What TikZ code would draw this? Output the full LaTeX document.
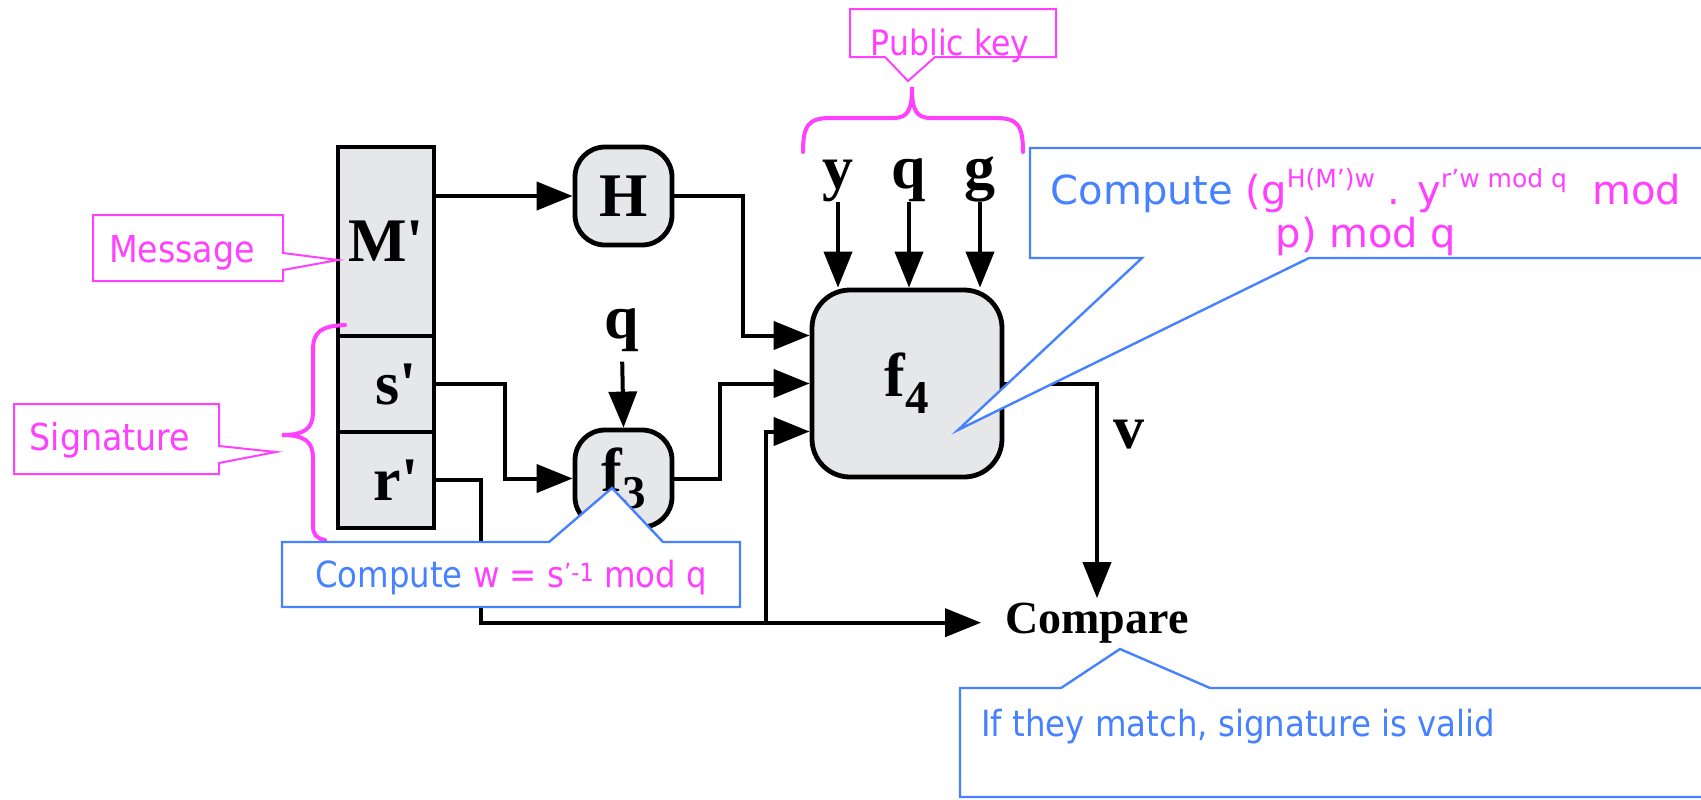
\documentclass[tikz,border=0pt]{standalone}
\usepackage{fontspec}
\usetikzlibrary{arrows.meta,calc}
\newfontfamily\tms{Liberation Serif}
\newfontfamily\tah[FakeStretch=0.9]{DejaVu Sans}
\newfontfamily\tahw{DejaVu Sans}
\definecolor{cmag}{RGB}{255,64,255}
\definecolor{cblu}{RGB}{70,130,255}
\definecolor{cgray}{RGB}{230,231,232}
\newcommand\tb[1]{{\tms\bfseries\fontsize{31}{31}\selectfont #1}}
\newcommand\fsub[2]{\tb{#1\raisebox{-8.5pt}{\fontsize{23.5}{23.5}\selectfont #2}}}
\newcommand\sups[3]{\raisebox{#1}{\fontsize{#2}{#2}\selectfont #3}}
\begin{document}
\begin{tikzpicture}[x=0.5pt,y=-0.5pt,
  wire/.style={line width=2pt,draw=black},
  arr/.style={wire,-{Triangle[length=18pt,width=14pt]}},
  cell/.style={draw,line width=2.4pt,fill=cgray,rectangle,minimum width=48pt,inner sep=0pt},
  rbox/.style={draw,line width=2.4pt,fill=cgray,rectangle,inner sep=0pt},
  lab/.style={inner sep=0pt,anchor=base},
  mcall/.style={draw=cmag,line width=1pt,fill=white},
  bcall/.style={draw=cblu,line width=1.2pt,fill=white},
  brace/.style={draw=cmag,line width=2pt,line cap=round},
  ctext/.style={inner sep=0pt,anchor=base}]
\useasboundingbox (0,0) rectangle (1701,799);

% message column
\node[cell,minimum height=94.5pt] (Mp) at (386,241.5) {\tb{M'}};
\node[cell,minimum height=48pt] (sp) at (386,384) {\hspace*{10pt}\tb{s'}};
\node[cell,minimum height=48pt] (rp) at (386,480) {\hspace*{10pt}\tb{r'}};

% function boxes
\node[rbox,minimum width=48.5pt,minimum height=49pt,rounded corners=15pt] (H) at (623.5,196) {\tb{H}};
\node[rbox,minimum width=48.5pt,minimum height=48.5pt,rounded corners=15pt] (f3) at (623.5,478.5) {\fsub{f}{3}};
\node[rbox,minimum width=95pt,minimum height=93.5pt,rounded corners=19pt] (f4) at (907,383.5) {\fsub{f}{4}};

% labels
\node[lab] (q3) at (622,338) {\tb{q}};
\node[lab] (ly) at (838,188) {\tb{y}};
\node[lab] (lq) at (909,188) {\tb{q}};
\node[lab] (lg) at (980,188) {\tb{g}};
\node[lab] (lv) at (1129,448) {\tb{v}};
\node[anchor=base,inner xsep=12pt,inner ysep=2pt] (cmp) at (1097,633) {\tms\bfseries\fontsize{23}{23}\selectfont Compare};
\coordinate (jn) at (766,623);

% connectors
\draw[arr] (Mp.east |- H.west) -- (H.west);
\draw[arr] (sp.east) -- ++(69,0) |- (f3.west);
\draw[arr] (rp.east) -- ++(45,0) |- (cmp.west);
\draw[arr] (jn) |- ([yshift=-24pt]f4.west);
\draw[arr] (H.east) -- ++(69,0) |- ([yshift=24pt]f4.west);
\draw[arr] (f3.east) -- ++(46,0) |- (f4.west);
\draw[arr,shorten <=5pt] (q3.south) -- (f3.north);
\draw[arr] (ly.south) -- (ly.south |- f4.north);
\draw[arr] (lq.south) -- (lq.south |- f4.north);
\draw[arr] (lg.south) -- (lg.south |- f4.north);
\draw[arr] (f4.east) -| (cmp.north);

% braces
\draw[brace] (803,152) .. controls (803,126) and (808,118) .. (830,118) -- (893,118)
  .. controls (908,118) and (912,110) .. (912,87)
  .. controls (912,110) and (916,118) .. (931,118) -- (996,118)
  .. controls (1018,118) and (1023,126) .. (1023,152);
\draw[brace] (345,325) .. controls (322,326) and (313,331) .. (313,350) -- (313,412)
  .. controls (313,428) and (305,435) .. (282,435)
  .. controls (305,435) and (313,442) .. (313,458) -- (313,525)
  .. controls (313,535) and (316,538) .. (325,540);

% callouts
\draw[mcall] (93,215) -- (283,215) -- (283,253) -- (338,260) -- (283,270) -- (283,281) -- (93,281) -- cycle;
\draw[mcall] (14,404) -- (219,404) -- (219,446) -- (276,452) -- (219,463) -- (219,474) -- (14,474) -- cycle;
\draw[mcall] (850,9) -- (1056,9) -- (1056,57) -- (935,57) -- (908,81) -- (885,57) -- (850,57) -- cycle;
\draw[bcall] (1030,148) -- (1712,148) -- (1712,258) -- (1309,258) -- (958,430) -- (1142,258) -- (1030,258) -- cycle;
\draw[bcall] (282,542) -- (549,542) -- (612,488) -- (663,542) -- (740,542) -- (740,607) -- (282,607) -- cycle;
\draw[bcall] (960,688) -- (1061,688) -- (1120,649) -- (1210,688) -- (1712,688) -- (1712,797) -- (960,797) -- cycle;

% callout texts
\node[ctext,text=cmag,font={\tah\fontsize{18.5}{20}\selectfont}] (tmsg) at (182,262) {Message};
\node[ctext,text=cmag,font={\tah\fontsize{18.5}{20}\selectfont}] (tsig) at (110,450) {Signature};
\node[ctext,text=cmag,font={\tah\fontsize{17.5}{20}\selectfont}] (tpub) at (950,55) {Public key};
\node[ctext,text=cmag,font={\tah\fontsize{18}{20}\selectfont}] (tw) at (511,587) {{\color{cblu}Compute} w = s\sups{3pt}{12.5}{’-1} mod q};
\node[ctext,anchor=base west,text=cblu,font={\tah\fontsize{18}{20}\selectfont}] (tif) at (981,736) {If they match, signature is valid};
\node[inner sep=0pt,align=center,text=cmag,font={\tahw\fontsize{20}{21.5}\selectfont}] (tbig) at (1366,212)
  {{\color{cblu}Compute} (g\sups{8.5pt}{12.5}{H(M’)w} . y\sups{8.5pt}{12.5}{r’w mod q}\ \ mod\\p) mod q};
\end{tikzpicture}
\end{document}
